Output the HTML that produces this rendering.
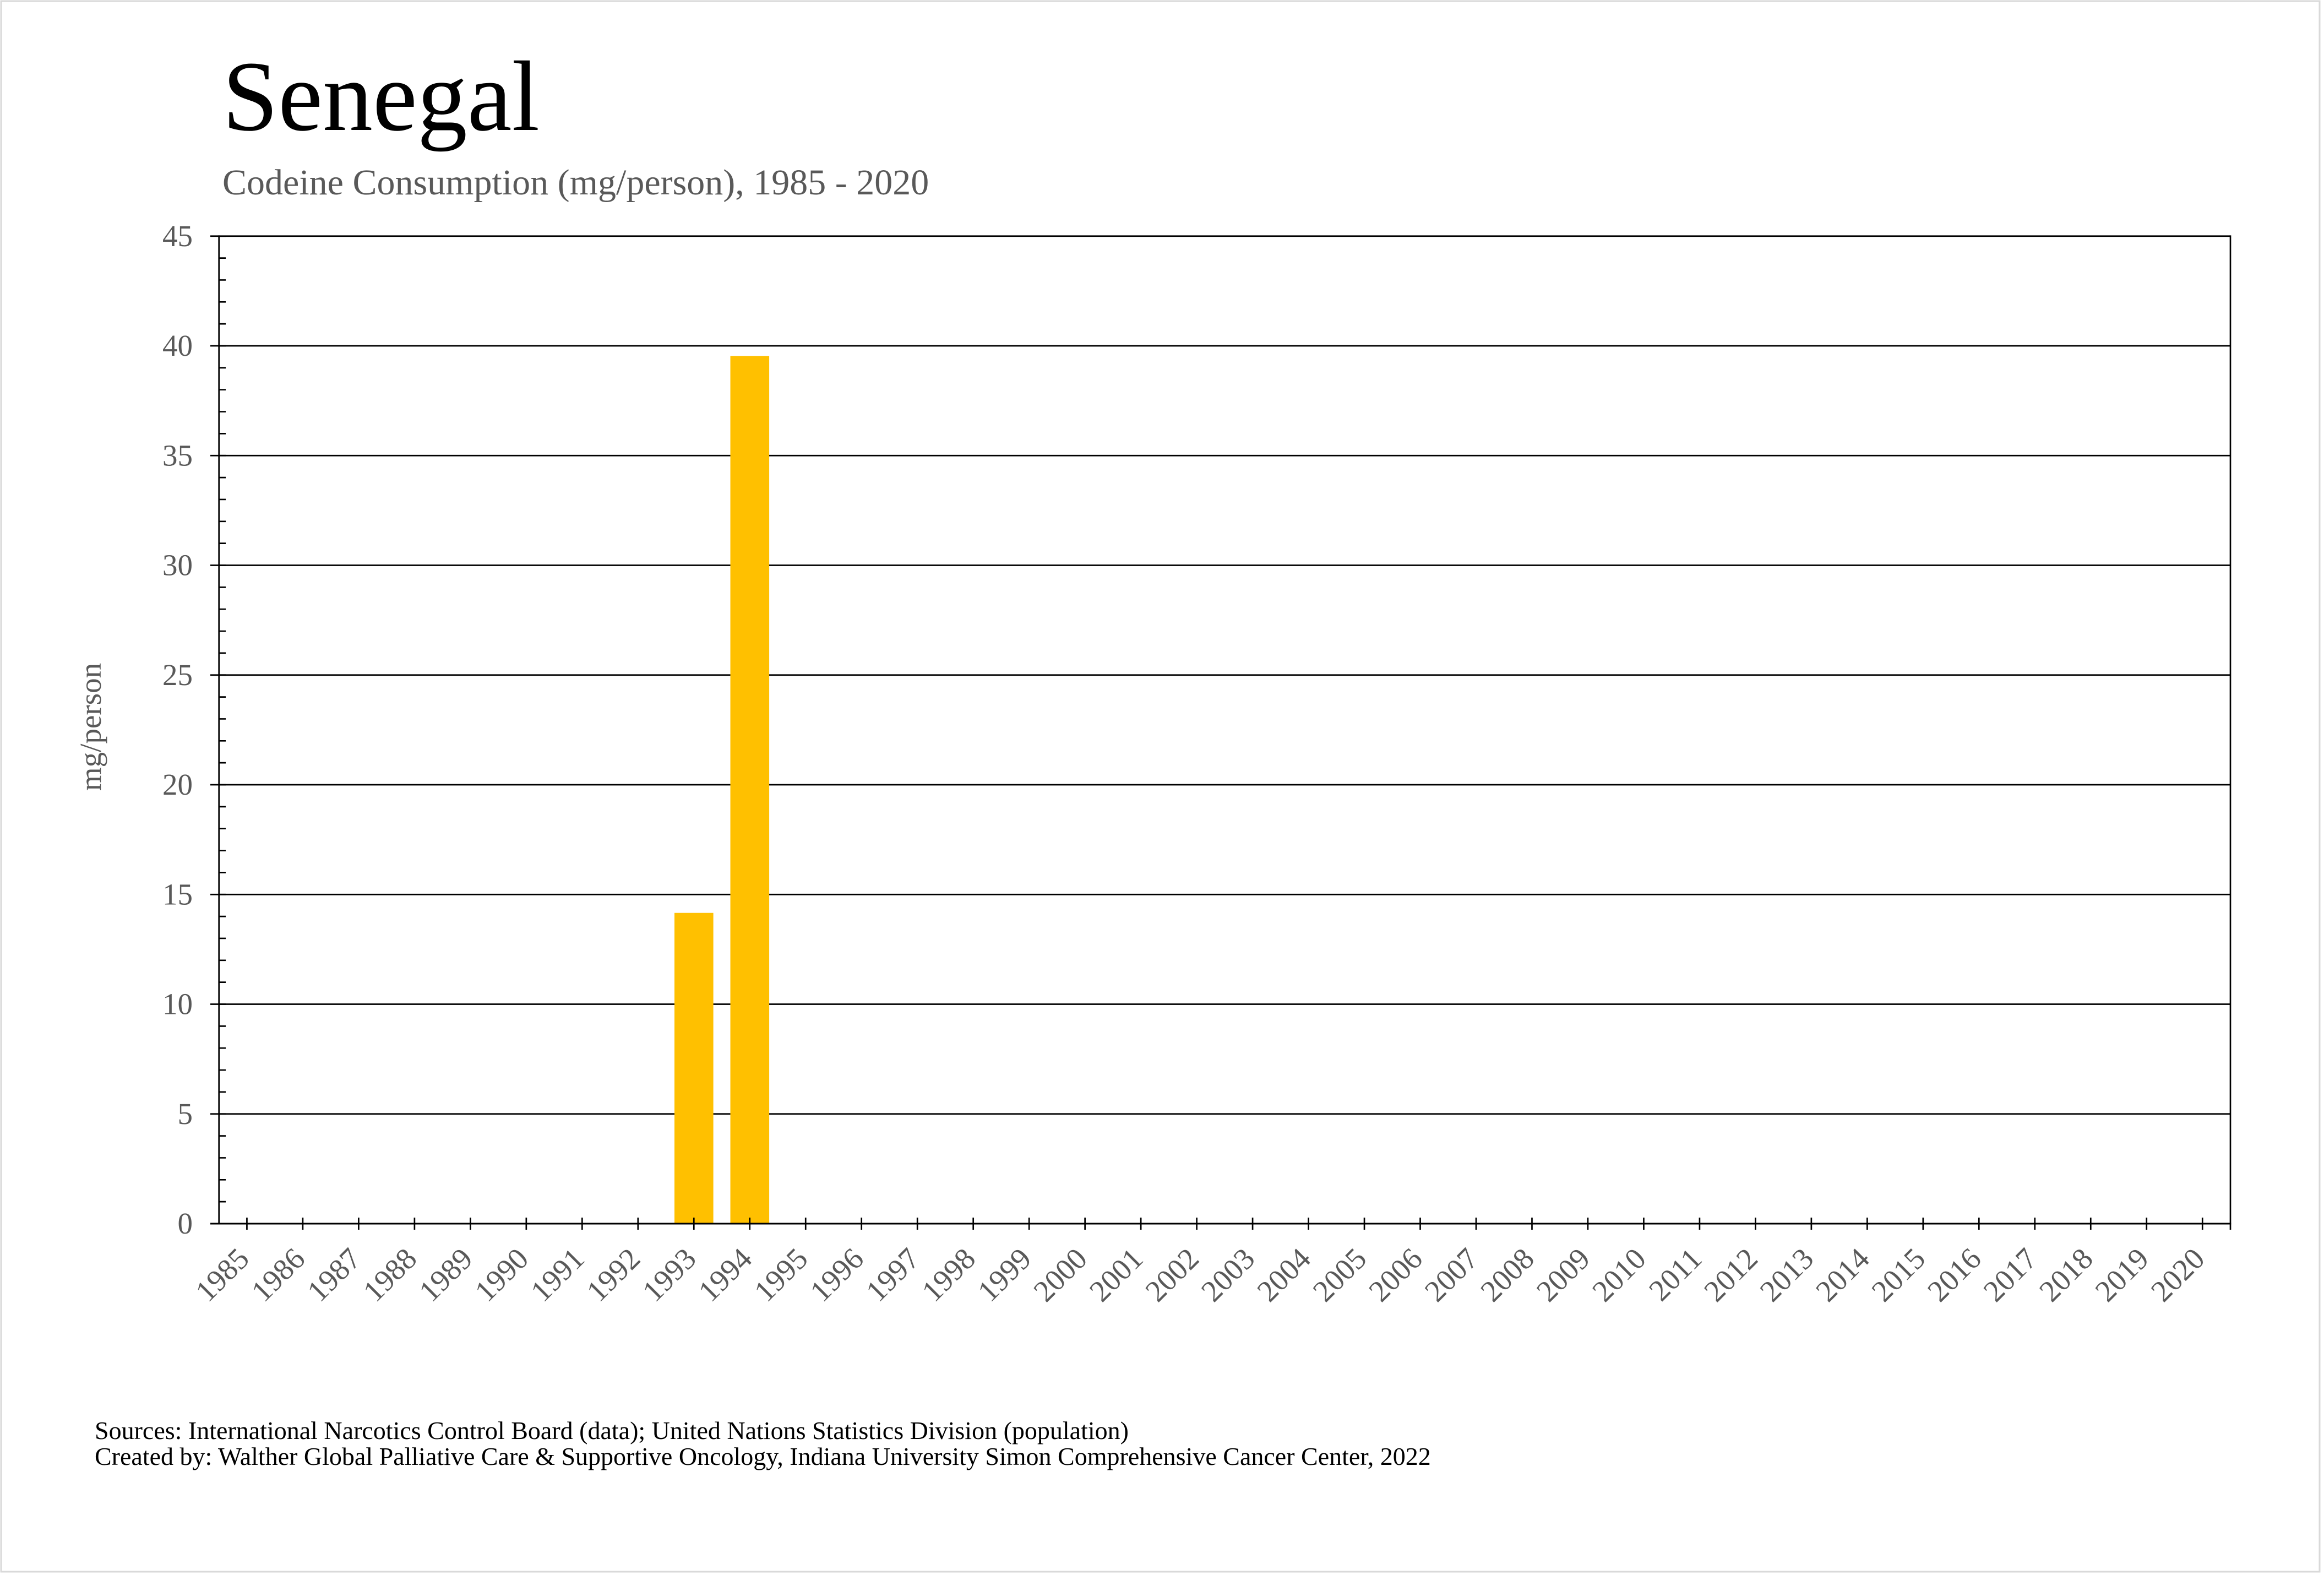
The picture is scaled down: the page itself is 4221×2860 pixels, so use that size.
<!DOCTYPE html>
<html>
<head>
<meta charset="utf-8">
<style>
  html, body { margin: 0; padding: 0; background: #ffffff; }
  body { width: 4221px; height: 2860px; overflow: hidden; }
  svg { display: block; }
  text { font-family: "Liberation Serif", "Times New Roman", serif; }
</style>
</head>
<body>
<svg width="4221" height="2860" viewBox="0 0 4221 2860" xmlns="http://www.w3.org/2000/svg">
  <rect x="0" y="0" width="4221" height="2860" fill="#ffffff"/>
  <rect x="2" y="2" width="4211" height="2852" fill="none" stroke="#d9d9d9" stroke-width="3"/>

  <!-- Title -->
  <text x="404" y="236" font-size="182" fill="#000000">Senegal</text>
  <text x="404" y="353" font-size="66" fill="#595959">Codeine Consumption (mg/person), 1985 - 2020</text>

  <!-- Gridlines (with outward major ticks) -->
  <g stroke="#000000" stroke-width="2.7">
    <line x1="382" y1="428.75" x2="4051" y2="428.75"/>
    <line x1="382" y1="628" x2="4051" y2="628"/>
    <line x1="382" y1="827.25" x2="4051" y2="827.25"/>
    <line x1="382" y1="1026.5" x2="4051" y2="1026.5"/>
    <line x1="382" y1="1225.75" x2="4051" y2="1225.75"/>
    <line x1="382" y1="1425" x2="4051" y2="1425"/>
    <line x1="382" y1="1624.25" x2="4051" y2="1624.25"/>
    <line x1="382" y1="1823.5" x2="4051" y2="1823.5"/>
    <line x1="382" y1="2022.75" x2="4051" y2="2022.75"/>
  </g>

  <!-- Bars -->
  <rect x="1225" y="1657.7" width="70.6" height="564.3" fill="#FFC000"/>
  <rect x="1326.5" y="646.3" width="70.6" height="1575.7" fill="#FFC000"/>

  <!-- Axes -->
  <g stroke="#000000" stroke-width="2.7" fill="none">
    <line x1="397.7" y1="427.4" x2="397.7" y2="2222"/>
    <line x1="4051" y1="427.4" x2="4051" y2="2233"/>
    <line x1="382" y1="2222" x2="4052.3" y2="2222" stroke-width="3"/>
    <!-- minor y ticks (inside) -->
    <line x1="403.85" y1="428.75" x2="403.85" y2="2222" stroke-width="12.3" stroke-dasharray="2.7 37.15" stroke-dashoffset="1.35"/>
    <!-- x ticks (cross) -->
    <line x1="447.09" y1="2222" x2="4001.6" y2="2222" stroke-width="22" stroke-dasharray="2.7 98.78"/>
  </g>

  <!-- Y tick labels -->
  <g font-size="55" fill="#595959" text-anchor="end">
    <text x="350" y="446.75">45</text>
    <text x="350" y="646">40</text>
    <text x="350" y="845.25">35</text>
    <text x="350" y="1044.5">30</text>
    <text x="350" y="1243.75">25</text>
    <text x="350" y="1443">20</text>
    <text x="350" y="1642.25">15</text>
    <text x="350" y="1841.5">10</text>
    <text x="350" y="2040.75">5</text>
    <text x="350" y="2240">0</text>
  </g>

  <!-- Y axis title -->
  <text transform="translate(183,1320) rotate(-90)" font-size="55" fill="#595959" text-anchor="middle">mg/person</text>

  <!-- X tick labels -->
  <g font-size="55" fill="#595959" text-anchor="end">
    <text transform="translate(455.4,2289) rotate(-45)">1985</text>
    <text transform="translate(556.9,2289) rotate(-45)">1986</text>
    <text transform="translate(658.4,2289) rotate(-45)">1987</text>
    <text transform="translate(759.9,2289) rotate(-45)">1988</text>
    <text transform="translate(861.4,2289) rotate(-45)">1989</text>
    <text transform="translate(962.8,2289) rotate(-45)">1990</text>
    <text transform="translate(1064.3,2289) rotate(-45)">1991</text>
    <text transform="translate(1165.8,2289) rotate(-45)">1992</text>
    <text transform="translate(1267.3,2289) rotate(-45)">1993</text>
    <text transform="translate(1368.8,2289) rotate(-45)">1994</text>
    <text transform="translate(1470.2,2289) rotate(-45)">1995</text>
    <text transform="translate(1571.7,2289) rotate(-45)">1996</text>
    <text transform="translate(1673.2,2289) rotate(-45)">1997</text>
    <text transform="translate(1774.7,2289) rotate(-45)">1998</text>
    <text transform="translate(1876.2,2289) rotate(-45)">1999</text>
    <text transform="translate(1977.6,2289) rotate(-45)">2000</text>
    <text transform="translate(2079.1,2289) rotate(-45)">2001</text>
    <text transform="translate(2180.6,2289) rotate(-45)">2002</text>
    <text transform="translate(2282.1,2289) rotate(-45)">2003</text>
    <text transform="translate(2383.6,2289) rotate(-45)">2004</text>
    <text transform="translate(2485.0,2289) rotate(-45)">2005</text>
    <text transform="translate(2586.5,2289) rotate(-45)">2006</text>
    <text transform="translate(2688.0,2289) rotate(-45)">2007</text>
    <text transform="translate(2789.5,2289) rotate(-45)">2008</text>
    <text transform="translate(2891.0,2289) rotate(-45)">2009</text>
    <text transform="translate(2992.4,2289) rotate(-45)">2010</text>
    <text transform="translate(3093.9,2289) rotate(-45)">2011</text>
    <text transform="translate(3195.4,2289) rotate(-45)">2012</text>
    <text transform="translate(3296.9,2289) rotate(-45)">2013</text>
    <text transform="translate(3398.4,2289) rotate(-45)">2014</text>
    <text transform="translate(3499.8,2289) rotate(-45)">2015</text>
    <text transform="translate(3601.3,2289) rotate(-45)">2016</text>
    <text transform="translate(3702.8,2289) rotate(-45)">2017</text>
    <text transform="translate(3804.3,2289) rotate(-45)">2018</text>
    <text transform="translate(3905.8,2289) rotate(-45)">2019</text>
    <text transform="translate(4007.2,2289) rotate(-45)">2020</text>
  </g>

  <!-- Footnotes -->
  <g font-size="46" fill="#000000">
    <text x="172" y="2613">Sources: International Narcotics Control Board (data); United Nations Statistics Division (population)</text>
    <text x="172" y="2660">Created by: Walther Global Palliative Care &amp; Supportive Oncology, Indiana University Simon Comprehensive Cancer Center, 2022</text>
  </g>
</svg>
</body>
</html>
